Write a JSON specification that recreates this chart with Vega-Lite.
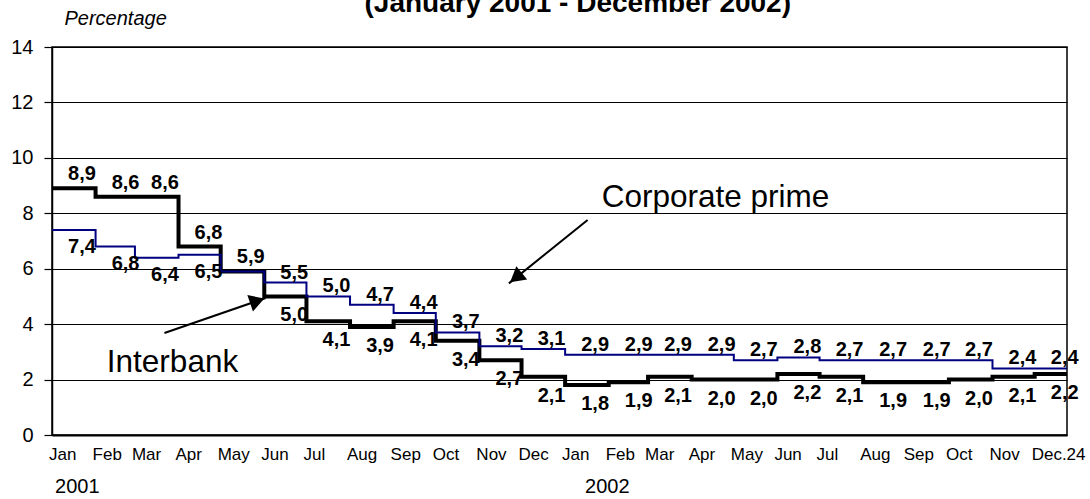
{
  "$schema": "https://vega.github.io/schema/vega-lite/v6.json",
  "width": 1015,
  "height": 388,
  "autosize": {"type": "none"},
  "padding": {"left": 52, "top": 47, "right": 23, "bottom": 64},
  "datasets": {
    "rates": [
      {"d": "2001-01-01", "mon": "Jan", "ib": 8.9, "cp": 7.4},
      {"d": "2001-02-01", "mon": "Feb", "ib": 8.6, "cp": 6.8},
      {"d": "2001-03-01", "mon": "Mar", "ib": 8.6, "cp": 6.4},
      {"d": "2001-04-01", "mon": "Apr", "ib": 6.8, "cp": 6.5},
      {"d": "2001-05-01", "mon": "May", "ib": 5.9, "cp": 5.9},
      {"d": "2001-06-01", "mon": "Jun", "ib": 5.0, "cp": 5.5},
      {"d": "2001-07-01", "mon": "Jul", "ib": 4.1, "cp": 5.0},
      {"d": "2001-08-01", "mon": "Aug", "ib": 3.9, "cp": 4.7},
      {"d": "2001-09-01", "mon": "Sep", "ib": 4.1, "cp": 4.4},
      {"d": "2001-10-01", "mon": "Oct", "ib": 3.4, "cp": 3.7},
      {"d": "2001-11-01", "mon": "Nov", "ib": 2.7, "cp": 3.2},
      {"d": "2001-12-01", "mon": "Dec", "ib": 2.1, "cp": 3.1},
      {"d": "2002-01-01", "mon": "Jan", "ib": 1.8, "cp": 2.9},
      {"d": "2002-02-01", "mon": "Feb", "ib": 1.9, "cp": 2.9},
      {"d": "2002-03-01", "mon": "Mar", "ib": 2.1, "cp": 2.9},
      {"d": "2002-04-01", "mon": "Apr", "ib": 2.0, "cp": 2.9},
      {"d": "2002-05-01", "mon": "May", "ib": 2.0, "cp": 2.7},
      {"d": "2002-06-01", "mon": "Jun", "ib": 2.2, "cp": 2.8},
      {"d": "2002-07-01", "mon": "Jul", "ib": 2.1, "cp": 2.7},
      {"d": "2002-08-01", "mon": "Aug", "ib": 1.9, "cp": 2.7},
      {"d": "2002-09-01", "mon": "Sep", "ib": 1.9, "cp": 2.7},
      {"d": "2002-10-01", "mon": "Oct", "ib": 2.0, "cp": 2.7},
      {"d": "2002-11-01", "mon": "Nov", "ib": 2.1, "cp": 2.4},
      {"d": "2002-12-01", "mon": "Dec.24", "ib": 2.2, "cp": 2.4},
      {"d": "2002-12-24", "mon": "", "ib": 2.2, "cp": 2.4}
    ],
    "heading": [
      {"d": "2002-01-10", "v": 15.27, "text": "(January 2001 - December 2002)"}
    ],
    "years": [
      {"d": "2001-01-19", "year": "2001"},
      {"d": "2002-01-31", "year": "2002"}
    ],
    "notes": [
      {"d": "2001-02-09", "v": 2.28, "note": "Interbank"},
      {"d": "2002-01-27", "v": 8.24, "note": "Corporate prime"}
    ],
    "arrows": [
      {"name": "ib", "d": "2001-03-22", "v": 3.68, "d2": "2001-06-02", "v2": 4.94, "hd": "2001-05-27", "hv": 4.84},
      {"name": "cp", "d": "2002-01-17", "v": 7.76, "d2": "2001-11-22", "v2": 5.47, "hd": "2001-11-27", "hv": 5.68}
    ]
  },
  "encoding": {
    "x": {
      "field": "d",
      "type": "temporal",
      "scale": {"type": "utc", "domain": ["2001-01-01", "2002-12-24"], "nice": false},
      "axis": {"labels": false, "ticks": false, "grid": false, "domain": true, "domainColor": "black", "domainWidth": 2, "title": null}
    }
  },
  "layer": [
    {
      "data": {"name": "rates"},
      "mark": {"type": "line", "interpolate": "step-after", "color": "black", "strokeWidth": 4},
      "encoding": {
        "y": {
          "field": "ib",
          "type": "quantitative",
          "scale": {"domain": [0, 14], "nice": false},
          "axis": {
            "values": [0, 2, 4, 6, 8, 10, 12, 14],
            "grid": true,
            "gridColor": "black",
            "gridWidth": 1.2,
            "gridOpacity": 1,
            "domainColor": "black",
            "domainWidth": 1.5,
            "tickColor": "black",
            "tickSize": 8,
            "tickWidth": 1.2,
            "labelFont": "Liberation Sans",
            "labelFontSize": 20,
            "labelColor": "black",
            "labelPadding": 11,
            "title": "Percentage",
            "titleAngle": 0,
            "titleX": 12,
            "titleY": -23,
            "titleAlign": "left",
            "titleBaseline": "alphabetic",
            "titleFont": "Liberation Sans",
            "titleFontSize": 20,
            "titleFontStyle": "italic",
            "titleFontWeight": "normal",
            "titleColor": "black"
          }
        }
      }
    },
    {
      "data": {"name": "rates"},
      "mark": {"type": "line", "interpolate": "step-after", "color": "#000080", "strokeWidth": 2},
      "encoding": {"y": {"field": "cp", "type": "quantitative"}}
    },
    {
      "data": {"name": "rates"},
      "transform": [{"filter": "time(datum.d) <= utc(2001, 4, 1)"}],
      "mark": {"type": "text", "font": "Liberation Sans", "fontSize": 20, "fontWeight": "bold", "color": "black", "baseline": "middle", "dx": 30, "dy": -14},
      "encoding": {"y": {"field": "ib", "type": "quantitative"}, "text": {"field": "ib", "type": "quantitative", "format": ".1f"}}
    },
    {
      "data": {"name": "rates"},
      "transform": [{"filter": "time(datum.d) >= utc(2001, 5, 1) && datum.mon != ''"}],
      "mark": {"type": "text", "font": "Liberation Sans", "fontSize": 20, "fontWeight": "bold", "color": "black", "baseline": "middle", "dx": 30, "dy": 19},
      "encoding": {"y": {"field": "ib", "type": "quantitative"}, "text": {"field": "ib", "type": "quantitative", "format": ".1f"}}
    },
    {
      "data": {"name": "rates"},
      "transform": [{"filter": "time(datum.d) <= utc(2001, 3, 1)"}],
      "mark": {"type": "text", "font": "Liberation Sans", "fontSize": 20, "fontWeight": "bold", "color": "black", "baseline": "middle", "dx": 30, "dy": 17},
      "encoding": {"y": {"field": "cp", "type": "quantitative"}, "text": {"field": "cp", "type": "quantitative", "format": ".1f"}}
    },
    {
      "data": {"name": "rates"},
      "transform": [{"filter": "time(datum.d) >= utc(2001, 5, 1) && datum.mon != ''"}],
      "mark": {"type": "text", "font": "Liberation Sans", "fontSize": 20, "fontWeight": "bold", "color": "black", "baseline": "middle", "dx": 30, "dy": -10},
      "encoding": {"y": {"field": "cp", "type": "quantitative"}, "text": {"field": "cp", "type": "quantitative", "format": ".1f"}}
    },
    {
      "data": {"name": "rates"},
      "transform": [{"filter": "datum.mon != ''"}],
      "mark": {"type": "text", "font": "Liberation Sans", "fontSize": 17, "color": "black", "align": "left", "baseline": "middle", "dx": -3},
      "encoding": {"y": {"datum": -0.72}, "text": {"field": "mon"}}
    },
    {
      "data": {"name": "heading"},
      "mark": {"type": "text", "font": "Liberation Sans", "fontSize": 28, "fontWeight": "bold", "color": "black", "baseline": "alphabetic"},
      "encoding": {"x": {"field": "d", "type": "temporal"}, "y": {"field": "v", "type": "quantitative"}, "text": {"field": "text"}}
    },
    {
      "data": {"name": "years"},
      "mark": {"type": "text", "font": "Liberation Sans", "fontSize": 20, "color": "black", "baseline": "middle"},
      "encoding": {"x": {"field": "d", "type": "temporal"}, "y": {"datum": -1.89}, "text": {"field": "year"}}
    },
    {
      "data": {"name": "notes"},
      "mark": {"type": "text", "font": "Liberation Sans", "fontSize": 31.5, "color": "black", "align": "left", "baseline": "alphabetic"},
      "encoding": {"x": {"field": "d", "type": "temporal"}, "y": {"field": "v", "type": "quantitative"}, "text": {"field": "note"}}
    },
    {
      "data": {"name": "arrows"},
      "mark": {"type": "rule", "color": "black", "strokeWidth": 2},
      "encoding": {
        "x": {"field": "d", "type": "temporal"},
        "y": {"field": "v", "type": "quantitative"},
        "x2": {"field": "d2"},
        "y2": {"field": "v2"}
      }
    },
    {
      "data": {"name": "arrows"},
      "transform": [{"filter": "datum.name == 'ib'"}],
      "mark": {"type": "point", "shape": "triangle-up", "filled": true, "color": "black", "opacity": 1, "size": 300, "angle": 71},
      "encoding": {"x": {"field": "hd", "type": "temporal"}, "y": {"field": "hv", "type": "quantitative"}}
    },
    {
      "data": {"name": "arrows"},
      "transform": [{"filter": "datum.name == 'cp'"}],
      "mark": {"type": "point", "shape": "triangle-up", "filled": true, "color": "black", "opacity": 1, "size": 300, "angle": 231},
      "encoding": {"x": {"field": "hd", "type": "temporal"}, "y": {"field": "hv", "type": "quantitative"}}
    }
  ],
  "config": {
    "view": {"stroke": "black", "strokeWidth": 1.5},
    "background": "white",
    "locale": {"number": {"decimal": ",", "thousands": ".", "grouping": [3], "currency": ["", " €"]}}
  }
}
